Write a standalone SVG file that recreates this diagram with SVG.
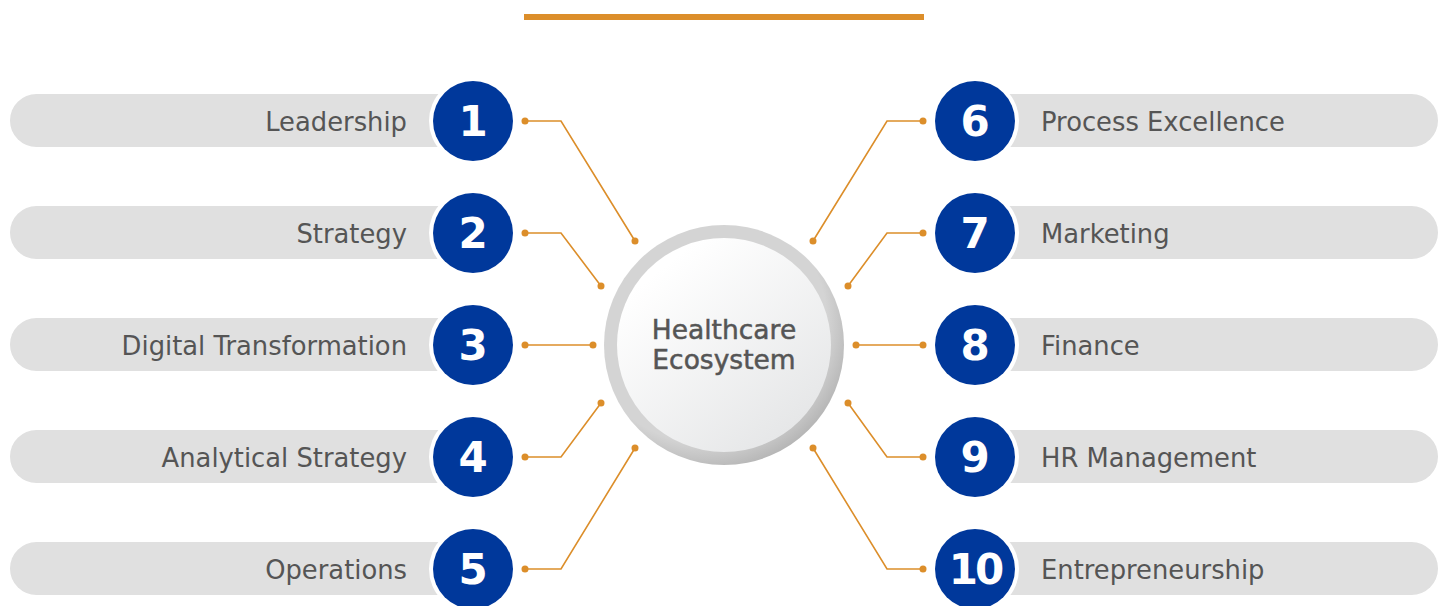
<svg xmlns="http://www.w3.org/2000/svg" width="1448" height="606" viewBox="0 0 1448 606">
<defs>
<style>
.pill{fill:#e0e0e0}
.ring{fill:#ffffff}
.num{fill:#00389b}
.nt{font-family:"DejaVu Sans",sans-serif;font-weight:bold;font-size:42px;fill:#ffffff;text-anchor:middle}
.lbl{font-family:"DejaVu Sans",sans-serif;font-size:25.8px;fill:#555555}
.l{text-anchor:end}
.con{fill:none;stroke:#dc8e2a;stroke-width:1.6}
.dot{fill:#dc8e2a}
.ct{font-family:"DejaVu Sans",sans-serif;font-size:26.5px;fill:#555555;text-anchor:middle;stroke:#555555;stroke-width:0.5}
</style>
<radialGradient id="outer" cx="0.42" cy="0.4" r="0.65">
<stop offset="0.78" stop-color="#d4d4d4"/>
<stop offset="1" stop-color="#b0b0b0"/>
</radialGradient>
<linearGradient id="inner" x1="0.2" y1="0.15" x2="0.8" y2="0.9">
<stop offset="0" stop-color="#ffffff"/>
<stop offset="1" stop-color="#e6e7e8"/>
</linearGradient>
</defs>
<rect width="1448" height="606" fill="#ffffff"/>
<rect x="524" y="14" width="400" height="6" fill="#dc8e2a"/>

<g id="connectors">
<polyline class="con" points="525,121 561,121 635,241"/>
<polyline class="con" points="525,233 561,233 601,286"/>
<polyline class="con" points="525,345 593,345"/>
<polyline class="con" points="525,457 561,457 601,403"/>
<polyline class="con" points="525,569 561,569 635,448"/>
<polyline class="con" points="923,121 887,121 813,241"/>
<polyline class="con" points="923,233 887,233 848,286"/>
<polyline class="con" points="923,345 856,345"/>
<polyline class="con" points="923,457 887,457 848,403"/>
<polyline class="con" points="923,569 887,569 813,448"/>
<g class="dot">
<circle cx="525" cy="121" r="3.5"/><circle cx="635" cy="241" r="3.5"/>
<circle cx="525" cy="233" r="3.5"/><circle cx="601" cy="286" r="3.5"/>
<circle cx="525" cy="345" r="3.5"/><circle cx="593" cy="345" r="3.5"/>
<circle cx="525" cy="457" r="3.5"/><circle cx="601" cy="403" r="3.5"/>
<circle cx="525" cy="569" r="3.5"/><circle cx="635" cy="448" r="3.5"/>
<circle cx="923" cy="121" r="3.5"/><circle cx="813" cy="241" r="3.5"/>
<circle cx="923" cy="233" r="3.5"/><circle cx="848" cy="286" r="3.5"/>
<circle cx="923" cy="345" r="3.5"/><circle cx="856" cy="345" r="3.5"/>
<circle cx="923" cy="457" r="3.5"/><circle cx="848" cy="403" r="3.5"/>
<circle cx="923" cy="569" r="3.5"/><circle cx="813" cy="448" r="3.5"/>
</g>
</g>

<g id="center">
<circle cx="724" cy="345" r="120" fill="url(#outer)"/>
<circle cx="724" cy="345" r="107" fill="url(#inner)"/>
<text class="ct" x="724" y="339">Healthcare</text>
<text class="ct" x="724" y="369">Ecosystem</text>
</g>

<g id="n1"><rect class="pill" x="10" y="94" width="470" height="53" rx="26.5"/><circle class="ring" cx="473" cy="121" r="44"/><circle class="num" cx="473" cy="121" r="40"/><text class="nt" x="473" y="136">1</text><text class="lbl l" x="407" y="131">Leadership</text></g>
<g id="n2"><rect class="pill" x="10" y="206" width="470" height="53" rx="26.5"/><circle class="ring" cx="473" cy="233" r="44"/><circle class="num" cx="473" cy="233" r="40"/><text class="nt" x="473" y="248">2</text><text class="lbl l" x="407" y="243">Strategy</text></g>
<g id="n3"><rect class="pill" x="10" y="318" width="470" height="53" rx="26.5"/><circle class="ring" cx="473" cy="345" r="44"/><circle class="num" cx="473" cy="345" r="40"/><text class="nt" x="473" y="360">3</text><text class="lbl l" x="407" y="355">Digital Transformation</text></g>
<g id="n4"><rect class="pill" x="10" y="430" width="470" height="53" rx="26.5"/><circle class="ring" cx="473" cy="457" r="44"/><circle class="num" cx="473" cy="457" r="40"/><text class="nt" x="473" y="472">4</text><text class="lbl l" x="407" y="467">Analytical Strategy</text></g>
<g id="n5"><rect class="pill" x="10" y="542" width="470" height="53" rx="26.5"/><circle class="ring" cx="473" cy="569" r="44"/><circle class="num" cx="473" cy="569" r="40"/><text class="nt" x="473" y="584">5</text><text class="lbl l" x="407" y="579">Operations</text></g>

<g id="n6"><rect class="pill" x="968" y="94" width="470" height="53" rx="26.5"/><circle class="ring" cx="975" cy="121" r="44"/><circle class="num" cx="975" cy="121" r="40"/><text class="nt" x="975" y="136">6</text><text class="lbl" x="1041" y="131">Process Excellence</text></g>
<g id="n7"><rect class="pill" x="968" y="206" width="470" height="53" rx="26.5"/><circle class="ring" cx="975" cy="233" r="44"/><circle class="num" cx="975" cy="233" r="40"/><text class="nt" x="975" y="248">7</text><text class="lbl" x="1041" y="243">Marketing</text></g>
<g id="n8"><rect class="pill" x="968" y="318" width="470" height="53" rx="26.5"/><circle class="ring" cx="975" cy="345" r="44"/><circle class="num" cx="975" cy="345" r="40"/><text class="nt" x="975" y="360">8</text><text class="lbl" x="1041" y="355">Finance</text></g>
<g id="n9"><rect class="pill" x="968" y="430" width="470" height="53" rx="26.5"/><circle class="ring" cx="975" cy="457" r="44"/><circle class="num" cx="975" cy="457" r="40"/><text class="nt" x="975" y="472">9</text><text class="lbl" x="1041" y="467">HR Management</text></g>
<g id="n10"><rect class="pill" x="968" y="542" width="470" height="53" rx="26.5"/><circle class="ring" cx="975" cy="569" r="44"/><circle class="num" cx="975" cy="569" r="40"/><text class="nt" x="975" y="584" font-size="38" letter-spacing="-3">10</text><text class="lbl" x="1041" y="579">Entrepreneurship</text></g>
</svg>
